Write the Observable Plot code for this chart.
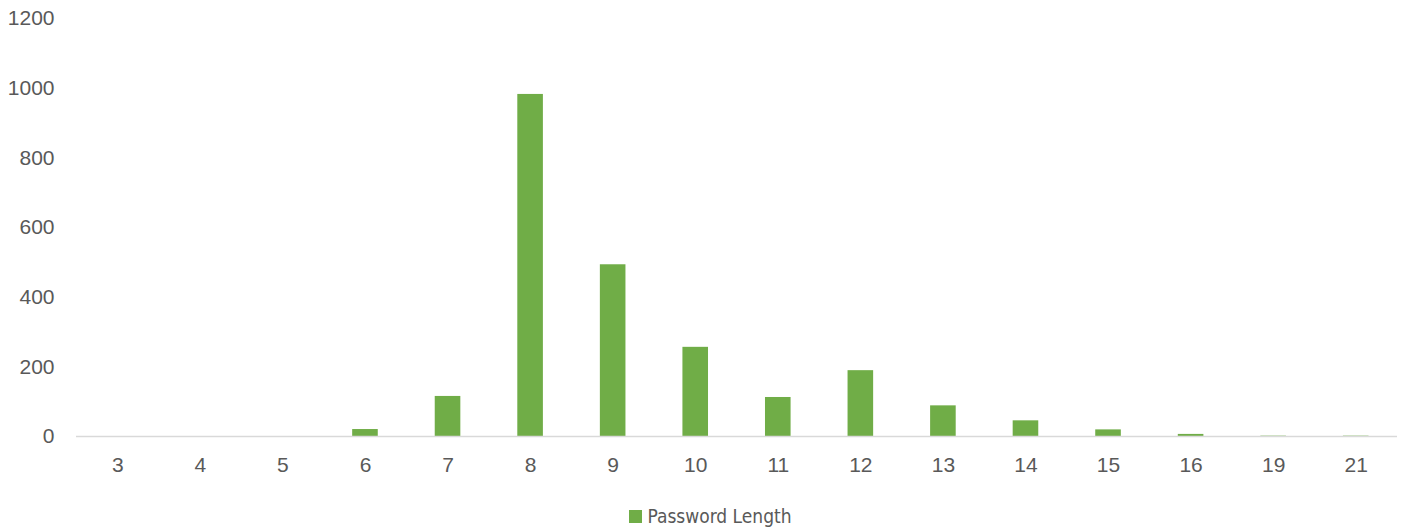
<!DOCTYPE html>
<html>
<head>
<meta charset="utf-8">
<script src="https://cdn.jsdelivr.net/npm/d3@7"></script>
<script src="https://cdn.jsdelivr.net/npm/@observablehq/plot@0.6"></script>
<style>
  html, body { margin: 0; padding: 0; background: #fff; }
  #chart svg { display: block; }
  .legend {
    width: 1403px;
    display: flex;
    justify-content: center;
    align-items: center;
    padding-top: 24px;
    padding-left: 18px;
    box-sizing: border-box;
    font-family: "DejaVu Sans Condensed", "Liberation Sans Narrow", "Liberation Sans", sans-serif;
    font-size: 19px;
    line-height: 24px;
    color: #595959;
  }
  .legend .swatch {
    width: 13px; height: 13px; background: #70ad47; margin-right: 5px;
  }
</style>
</head>
<body>
<div id="chart"></div>
<div class="legend"><span class="swatch"></span><span>Password Length</span></div>
<script>
// Password length distribution
const lengths = ["3", "4", "5", "6", "7", "8", "9", "10", "11", "12", "13", "14", "15", "16", "19", "21"];
const counts  = [0, 0, 0, 20, 115, 982, 493, 256, 112, 189, 88, 45, 19, 6, 1, 1];
const yTicks  = [0, 200, 400, 600, 800, 1000, 1200];

const data = lengths.map((len, i) => ({len, count: counts[i]}));

const chart = Plot.plot({
  width: 1403,
  height: 480,
  marginLeft: 76,
  marginRight: 6,
  marginTop: 18,
  marginBottom: 44,
  style: {
    fontFamily: "'Liberation Sans', Arial, sans-serif",
    color: "#595959",
    background: "#fff"
  },
  x: {domain: lengths, paddingInner: 0.69, paddingOuter: 0.345, round: false, label: null},
  y: {domain: [0, 1200], label: null},
  marks: [
    Plot.barY(data, {x: "len", y: "count", fill: "#70ad47"}),
    Plot.ruleY([0], {stroke: "#d9d9d9", strokeWidth: 1.5}),
    Plot.axisX({tickSize: 0, tickPadding: 21, label: null, fill: "#595959", fontSize: 21}),
    Plot.axisY({ticks: yTicks, tickFormat: d => String(d), tickSize: 0, tickPadding: 22,
                label: null, fill: "#595959", fontSize: 21})
  ]
});

document.getElementById("chart").appendChild(chart);
</script>
</body>
</html>
